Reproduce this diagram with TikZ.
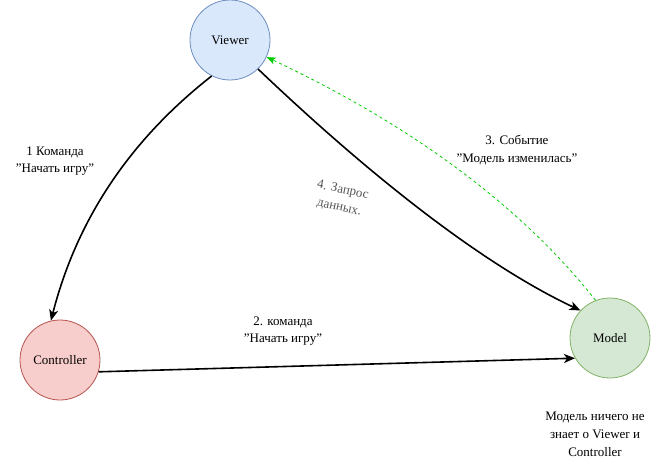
\documentclass[tikz,border=0pt]{standalone}
\usepackage{fontspec}
\setmainfont{Liberation Serif}
\usetikzlibrary{arrows.meta}
\definecolor{vfill}{HTML}{DAE8FC}\definecolor{vdraw}{HTML}{6C8EBF}
\definecolor{cfill}{HTML}{F8CECC}\definecolor{cdraw}{HTML}{B85450}
\definecolor{mfill}{HTML}{D5E8D4}\definecolor{mdraw}{HTML}{82B366}
\definecolor{evgreen}{HTML}{00CC00}
\definecolor{lblgray}{HTML}{555555}
\newcommand\dq{\symbol{34}}
\begin{document}
\begin{tikzpicture}[x=1pt,y=-1pt,
  every node/.style={font=\rmfamily\fontsize{13}{17.5}\selectfont},
  actor/.style={circle,minimum size=80pt,inner sep=0pt,line width=0.8pt},
  lbl/.style={align=center,inner sep=0pt},
  flow/.style={line width=1.6pt,-{Stealth[length=11pt,width=9pt,inset=3pt]}},
  event/.style={evgreen,line width=0.8pt,dash pattern=on 3pt off 3pt,-{Stealth[length=9pt,width=7pt,inset=2pt]}}]
\useasboundingbox (0,0) rectangle (670,471);
\node[actor,fill=vfill,draw=vdraw] (viewer) at (230,40) {Viewer};
\node[actor,fill=cfill,draw=cdraw] (controller) at (60,360) {Controller};
\node[actor,fill=mfill,draw=mdraw] (model) at (610,338) {Model};
\draw[flow] (viewer.243) .. controls (130,140) and (77,219) .. (controller.103);
\draw[flow] (controller.343) -- (model.210);
\draw[flow] (viewer.314) .. controls (382,187) and (490,268) .. (model.137);
\draw[event] (model.111) .. controls (522,207) and (413,126) .. (viewer.335);
\node[lbl] (l1) at (55,161) {1 Команда\\\dq Начать игру\dq};
\node[lbl] (l2) at (283,331) {2. команда\\\dq Начать игру\dq};
\node[lbl] (l3) at (517,150) {3. Событие\\\dq Модель изменилась\dq};
\node[lbl,text=lblgray,rotate=-12] (l4) at (341,199) {4. Запрос\\данных.};
\node[lbl,font=\rmfamily\fontsize{13}{18}\selectfont] (note) at (595,434) {Модель ничего не\\знает о Viewer и\\Controller};
\end{tikzpicture}
\end{document}
